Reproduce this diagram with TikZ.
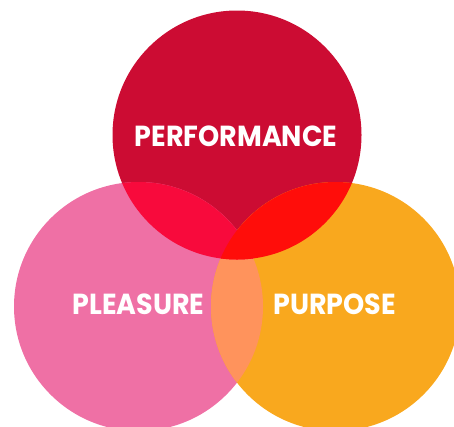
\documentclass[tikz,border=0pt]{standalone}
\usepackage{fontspec}
\setmainfont{Poppins}[UprightFont=*-SemiBold,BoldFont=*-Bold]
\definecolor{perfred}{HTML}{CC0C33}
\definecolor{pleapink}{HTML}{EF70A5}
\definecolor{purporange}{HTML}{F9A81E}
\definecolor{perfplea}{HTML}{F80A3C}
\definecolor{perfpurp}{HTML}{FF0D0A}
\definecolor{pleapurp}{HTML}{FF935C}
\begin{document}
\begin{tikzpicture}[x=1pt,y=-1pt,
  label/.style={text=white,font=\fontsize{29}{29}\selectfont\bfseries,inner sep=0pt,xscale=0.93}]
\useasboundingbox (0,0) rectangle (454,426);
\begin{scope}
\clip (0,0) rectangle (454,426);
% the three sets
\fill[perfred] (237,135) circle (124.5);
\fill[pleapink] (138.5,306.5) circle (124.5);
\fill[purporange] (335.5,306.5) circle (124.5);
% pairwise overlaps
\begin{scope}
  \clip (138.5,306.5) circle (124.5);
  \fill[pleapurp] (335.5,306.5) circle (124.5);
\end{scope}
\begin{scope}
  \clip (237,135) circle (124.5);
  \fill[perfplea] (138.5,306.5) circle (124.5);
\end{scope}
\begin{scope}
  \clip (237,135) circle (124.5);
  \fill[perfpurp] (335.5,306.5) circle (124.5);
\end{scope}
\end{scope}
\node[label] (perf) at (236,136) {PERFORMANCE};
\node[label] (plea) at (138.5,304) {PLEASURE};
\node[label] (purp) at (334.5,304) {PURPOSE};
\end{tikzpicture}
\end{document}
